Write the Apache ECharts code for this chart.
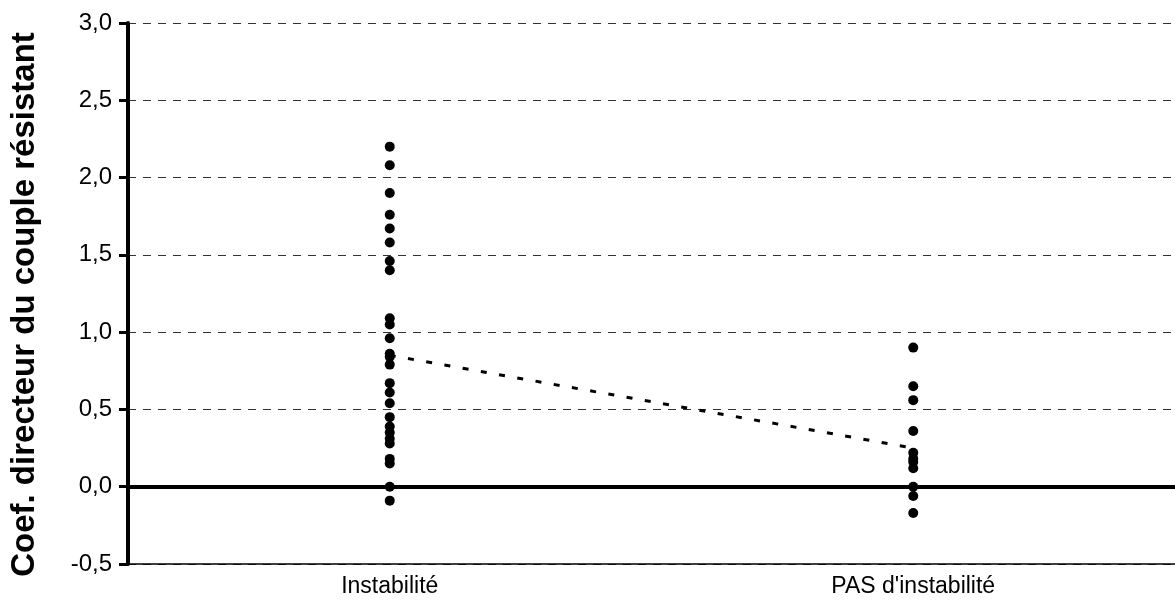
<!DOCTYPE html>
<html>
<head>
<meta charset="utf-8">
<script src="https://cdn.jsdelivr.net/npm/echarts@6/dist/echarts.min.js"></script>
<style>
html,body{margin:0;padding:0;background:#fff;}
#c{width:1175px;height:605px;}
</style>
</head>
<body>
<div id="c"></div>
<script>
const categories = ['Instabilité', "PAS d'instabilité"];
const instabiliteValues = [2.20, 2.08, 1.90, 1.76, 1.67, 1.58, 1.46, 1.40, 1.09, 1.05, 0.96, 0.86, 0.84, 0.79, 0.67, 0.61, 0.54, 0.45, 0.39, 0.35, 0.31, 0.28, 0.18, 0.15, 0.00, -0.09];
const pasInstabiliteValues = [0.90, 0.65, 0.56, 0.36, 0.22, 0.18, 0.16, 0.12, 0.00, -0.06, -0.17];
const meanValues = [0.85, 0.25];
const yTicks = { min: -0.5, max: 3.0, interval: 0.5 };
const yAxisTitle = 'Coef. directeur du couple résistant';

const FONT = '"Liberation Sans", Arial, sans-serif';
const chart = echarts.init(document.getElementById('c'), null, { renderer: 'canvas' });

const scatterData = [];
instabiliteValues.forEach(v => scatterData.push([categories[0], v]));
pasInstabiliteValues.forEach(v => scatterData.push([categories[1], v]));

chart.setOption({
  backgroundColor: '#ffffff',
  animation: false,
  grid: { left: 124, right: -8, top: 23, bottom: 41, containLabel: false },
  xAxis: {
    type: 'category',
    data: categories,
    boundaryGap: true,
    axisLine: { show: true, onZero: false, lineStyle: { color: '#000', width: 1.5 } },
    axisTick: { show: false },
    splitLine: { show: false },
    axisLabel: { color: '#000', fontFamily: FONT, fontSize: 23, margin: 11 }
  },
  yAxis: {
    type: 'value',
    min: yTicks.min,
    max: yTicks.max,
    interval: yTicks.interval,
    name: yAxisTitle,
    nameLocation: 'middle',
    nameGap: 87,
    nameTextStyle: { color: '#000', fontFamily: FONT, fontSize: 33, fontWeight: 'bold', padding: [0, 22, 0, 0] },
    axisLine: { show: true, lineStyle: { color: '#000', width: 4 } },
    axisTick: { show: true, inside: false, length: 9, lineStyle: { color: '#000', width: 3 } },
    axisLabel: {
      color: '#000', fontFamily: FONT, fontSize: 24, margin: 16,
      formatter: v => v.toFixed(1).replace('.', ',')
    },
    splitLine: { show: true, lineStyle: { color: '#333', width: 1, type: [8, 7] } }
  },
  series: [
    {
      type: 'line',
      data: meanValues,
      symbol: 'none',
      lineStyle: { color: '#000', width: 3, type: [6, 12.5] },
      z: 3,
      markLine: {
        silent: true,
        symbol: 'none',
        label: { show: false },
        lineStyle: { color: '#000', width: 4, type: 'solid' },
        data: [{ yAxis: 0 }]
      }
    },
    {
      type: 'scatter',
      data: scatterData,
      symbol: 'circle',
      symbolSize: 10,
      itemStyle: { color: '#000', opacity: 1 },
      z: 4
    }
  ]
});
</script>
</body>
</html>
